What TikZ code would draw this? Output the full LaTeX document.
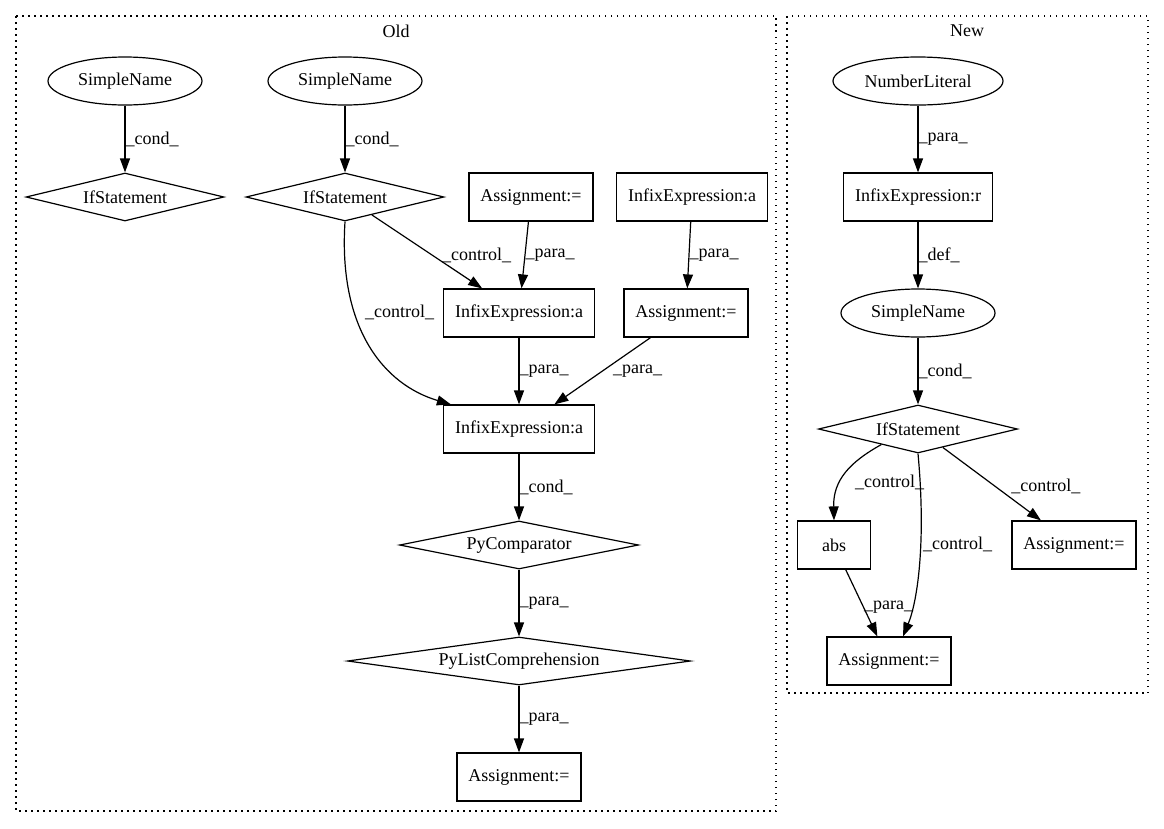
\documentclass[tikz,border=0pt]{standalone}
\usepackage{fontspec}
\setmainfont{Liberation Serif}
\usetikzlibrary{shapes.geometric, arrows.meta, positioning}
\tikzset{
  ->, % every connector is directed
  >={Triangle[length=14pt, width=10pt]}, % graphviz-like solid heads
  x=1pt, y=1pt, % one unit is one pixel of the drawing
  node distance=116pt, % distance between two ranks
  every node/.append style={font=\fontsize{18}{21}\selectfont},
  box/.style={draw, rectangle, minimum height=48pt, minimum width=73pt, inner xsep=11.5pt},
  oval/.style={draw, ellipse, inner sep=0pt, minimum height=48pt},
  cond/.style={draw, diamond, aspect=6, inner sep=0pt, minimum height=48pt},
  lbl/.style={anchor=west, inner sep=0pt}, % edge labels sit right of the line
  cluster/.style={draw, dash pattern=on 1.5pt off 4.5pt},
}
\begin{document}
\begin{tikzpicture}[line width=1.2pt]
  \useasboundingbox (0,0) rectangle (1164,-828);

  % clusters
  \draw[cluster] (16,-16) rectangle (776,-811);
  \draw[cluster] (787,-16) rectangle (1148,-693);
  \node (old) at (396,-31) {Old};
  \node (new) at (967,-31) {New};

  % old version
  \node[oval, minimum width=154pt] (sn1) at (125,-81) {SimpleName};
  \node[cond, minimum width=198pt, below of=sn1] (if1) {IfStatement};
  \node[oval, minimum width=154pt] (sn2) at (345,-81) {SimpleName};
  \node[cond, minimum width=198pt, below of=sn2] (if2) {IfStatement};
  \node[box] (asg1) at (531,-197) {Assignment:=};
  \node[box] (infA) at (692,-197) {InfixExpression:a};
  \node[box] (infM) at (519,-313) {InfixExpression:a};
  \node[box] (asg2) at (686,-313) {Assignment:=};
  \node[box, below of=infM] (infB) {InfixExpression:a};
  \node[cond, minimum width=239pt, below of=infB] (pycmp) {PyComparator};
  \node[cond, minimum width=343pt, below of=pycmp] (pylist) {PyListComprehension};
  \node[box, below of=pylist] (asg3) {Assignment:=};

  % new version
  \node[oval, minimum width=170pt] (nl) at (918,-81) {NumberLiteral};
  \node[box, below of=nl] (infR) {InfixExpression:r};
  \node[oval, minimum width=154pt, below of=infR] (sn3) {SimpleName};
  \node[cond, minimum width=199pt, below of=sn3] (if3) {IfStatement};
  \node[box] (abs) at (834,-545) {abs};
  \node[box] (asg4) at (1074,-545) {Assignment:=};
  \node[box] (asg5) at (889,-661) {Assignment:=};

  \draw
  (sn1) edge node[lbl]{\_cond\_} (if1)
  (sn2) edge node[lbl]{\_cond\_} (if2)
  (if2) edge node[lbl, pos=.55, xshift=9pt]{\_control\_} (infM)
  (asg1) edge node[lbl]{\_para\_} (infM)
  (infA) edge node[lbl]{\_para\_} (asg2)
  (infM) edge node[lbl]{\_para\_} (infB)
  (asg2) edge node[lbl, xshift=10pt]{\_para\_} (infB)
  (infB) edge node[lbl]{\_cond\_} (pycmp)
  (pycmp) edge node[lbl]{\_para\_} (pylist)
  (pylist) edge node[lbl]{\_para\_} (asg3)
  (nl) edge node[lbl]{\_para\_} (infR)
  (infR) edge node[lbl]{\_def\_} (sn3)
  (sn3) edge node[lbl]{\_cond\_} (if3)
  (if3) edge node[lbl, pos=.54, xshift=15pt]{\_control\_} (asg4)
  (abs) edge node[lbl, pos=.56]{\_para\_} (asg5)
  ;
  \draw (if2.south) .. controls (338,-330) and (385,-385) .. ([xshift=8pt]infB.north west)
    node[lbl, pos=.33, xshift=10pt]{\_control\_};
  \draw (if3.203) .. controls (850,-462) and (833,-480) .. (abs.north)
    node[lbl, pos=.62, xshift=14pt]{\_control\_};
  \draw (if3.south) .. controls (926,-540) and (918,-600) .. ([xshift=14pt]asg5.north)
    node[lbl, pos=.4, xshift=2pt]{\_control\_};
\end{tikzpicture}
\end{document}
